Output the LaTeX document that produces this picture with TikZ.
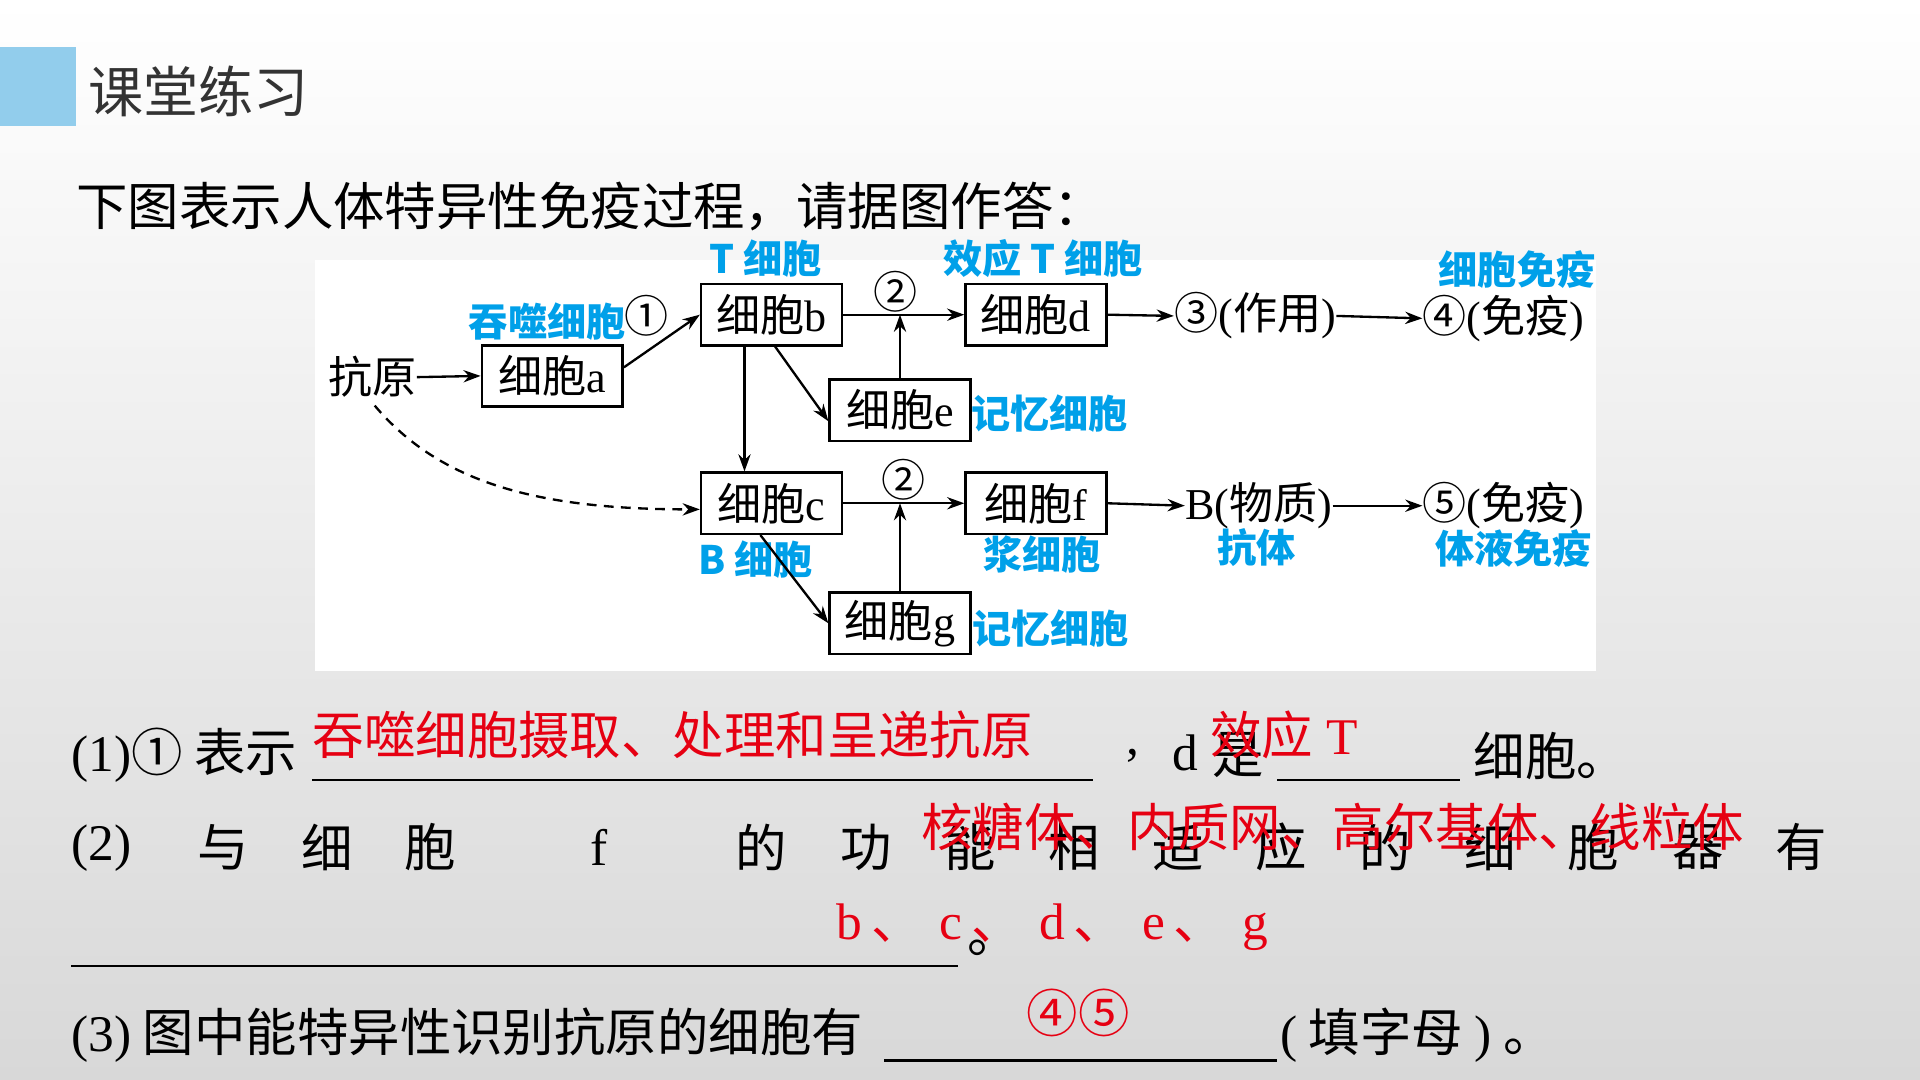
\documentclass[tikz,border=0pt]{standalone}
\usepackage{fontspec}
\setmainfont{Noto Sans CJK SC}
\newfontfamily\tm{Liberation Serif}
\usetikzlibrary{arrows.meta,calc}
\definecolor{lblue}{RGB}{0,160,233}
\definecolor{ansred}{RGB}{230,0,18}
\definecolor{tabblue}{RGB}{146,205,236}
\definecolor{bggray}{RGB}{216,216,216}
\definecolor{titlegray}{RGB}{51,51,51}
\newcommand\fsz[1]{\fontsize{#1}{#1}\selectfont}
\begin{document}
\begin{tikzpicture}[x=0.5pt,y=-0.5pt,
 cell/.style={draw, line width=1pt, minimum width=57.5pt, minimum height=25pt, inner sep=0pt, font=\fsz{18pt}},
 dtext/.style={inner sep=0pt, font=\fsz{18pt}},
 blab/.style={inner sep=0pt, text=lblue, font=\bfseries\fsz{16pt}},
 ans/.style={inner sep=0pt, text=ansred, font=\fsz{21pt}, anchor=west},
 qtext/.style={inner sep=0pt, font=\fsz{21pt}, anchor=west},
 qchar/.style={inner sep=0pt, font=\fsz{21pt}},
 arr/.style={-{Stealth[length=7pt,width=5pt]}, line width=0.95pt},
 uline/.style={line width=1pt}]
% background
\shade[top color=white, bottom color=bggray] (0,0) rectangle (1568,882);
\useasboundingbox (0,0) rectangle (1568,882);
\fill[tabblue] (0,38) rectangle (62,103);
\node[anchor=west, inner sep=0pt, text=titlegray, font=\fsz{22.5pt}] (title) at (72,75) {课堂练习};
\node[qtext] (sub) at (62,169) {下图表示人体特异性免疫过程，请据图作答：};
% diagram panel
\fill[white] (257,212) rectangle (1303,548);
% nodes
\node[dtext] (ag) at (304,308) {抗原};
\node[cell] (a) at (451,307) {细胞{\tm a}};
\node[cell] (b) at (630,257) {细胞{\tm b}};
\node[cell] (c) at (630,411) {细胞{\tm c}};
\node[cell] (d) at (846,257) {细胞{\tm d}};
\node[cell] (e) at (735,335) {细胞{\tm e}};
\node[cell] (f) at (846,411) {细胞{\tm f}};
\node[cell] (g) at (735,509) {细胞{\tm g}};
\node[dtext] (n3) at (1025,258) {③{\tm (}作用{\tm )}};
\node[dtext] (n4) at (1228,260) {④{\tm (}免疫{\tm )}};
\node[dtext] (nB) at (1028,413) {{\tm B(}物质{\tm )}};
\node[dtext] (n5) at (1228,413) {⑤{\tm (}免疫{\tm )}};
\node[dtext] (c1) at (528,258) {①};
\node[dtext] (c2a) at (731,238) {②};
\node[dtext] (c2b) at (738,392) {②};
% blue labels
\node[blab] (la) at (447,263) {吞噬细胞};
\node[blab] (lb) at (625,211) {T 细胞};
\node[blab] (ld) at (852,211) {效应 T 细胞};
\node[blab] (l4) at (1239,220) {细胞免疫};
\node[blab] (le) at (857,338) {记忆细胞};
\node[blab] (lc) at (617,457) {B 细胞};
\node[blab] (lf) at (851,453) {浆细胞};
\node[blab] (lB) at (1026,447) {抗体};
\node[blab] (l5) at (1236,448) {体液免疫};
\node[blab] (lg) at (858,513) {记忆细胞};
% connectors
\draw[arr] (ag.east) -- (a.west);
\draw[arr] ($(a.east)+(0,-7)$) -- (b.west);
\draw[arr] (b.east) -- (d.west);
\draw[arr] (e.north) -- (e.north |- b.east);
\draw[arr] (d.east) -- (n3.west);
\draw[arr] (n3.east) -- (n4.west);
\draw[arr] ($(b.south)+(3,0)$) -- ($(e.west)+(0,9)$);
\draw[arr] ($(b.south)+(-22,0)$) -- ($(c.north)+(-22,0)$);
\draw[arr] (c.east) -- (f.west);
\draw[arr] (g.north) -- (g.north |- c.east);
\draw[arr] ($(c.south)+(-9,0)$) -- (g.west);
\draw[arr] (f.east) -- (nB.west);
\draw[arr] (nB.east) -- (n5.west);
\draw[arr, dash pattern=on 4pt off 3pt] ($(ag.south)+(2,6)$) .. controls (360,395) and (440,416) .. ($(c.west)+(0,5)$);
% question (1)
\node[qtext] (q1a) at (58,617) {{\tm (1)}① 表示};
\draw[uline] (255,637) -- (893,637);
\node[ans] (a1) at (255,600) {吞噬细胞摄取、处理和呈递抗原};
\node[qchar] (q1c) at (925,617) {{\tm ,}};
\node[qchar] (q1d) at (968,615) {{\tm d}};
\node[qtext] (q1s) at (990,617) {是};
\draw[uline] (1043,637) -- (1192,637);
\node[ans] (a1b) at (988,600) {效应{\tm\ T}};
\node[qtext] (q1e) at (1203,617) {细胞。};
% question (2)
\node[qtext] (q2a) at (58,693) {{\tm (2)}};
\node[qchar] (q2f) at (489,692) {{\tm f}};
\foreach \x/\t [count=\i] in {182/与,267/细,351/胞,622/的,707/功,792/能,877/相,962/适,1046/应,1131/的,1217/细,1301/胞,1387/器,1471/有}
  \node[qchar] (q2c\i) at (\x,692) {\t};
\node[ans] (a2) at (752,675) {核糖体、内质网、高尔基体、线粒体};
\draw[uline] (58,789) -- (782,789);
\node[qtext] (q2e) at (790,774) {。};
\node[ans] (a2b) at (683,757) {{\tm b}\,、\hspace{7pt}{\tm c}\,、\hspace{7pt}{\tm d}\,、\hspace{7pt}{\tm e}\,、\hspace{7pt}{\tm g}};
% question (3)
\node[qtext] (q3a) at (58,845) {{\tm (3)} 图中能特异性识别抗原的细胞有};
\draw[uline] (722,866) -- (1043,866);
\node[qtext] (q3b) at (1045,845) {{\tm (} 填字母 {\tm )} 。};
\node[ans] (a3) at (838,827) {④⑤};
\end{tikzpicture}
\end{document}
